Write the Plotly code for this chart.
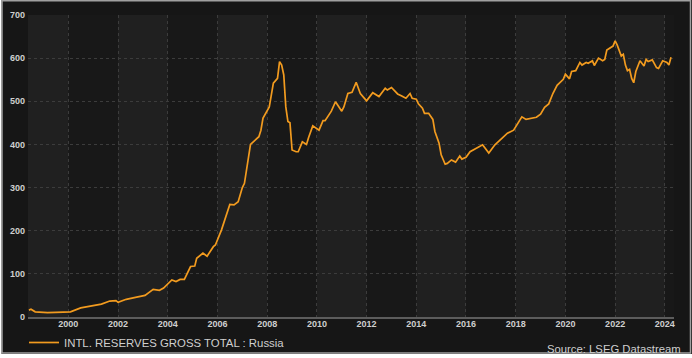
import plotly.graph_objects as go

# ---- data, USD bn ----
dates = [
    "1998-06", "1998-07", "1998-09", "1998-11", "1999-03", "1999-07", "2000-01", "2000-02",
    "2000-07", "2000-12", "2001-05", "2001-09", "2001-12", "2002-01", "2002-05", "2002-10",
    "2003-02", "2003-06", "2003-09", "2003-11", "2004-03", "2004-05", "2004-07", "2004-09",
    "2004-12", "2005-02", "2005-03", "2005-06", "2005-08", "2005-11", "2005-12", "2006-03",
    "2006-07", "2006-09", "2006-11", "2007-01", "2007-02", "2007-05", "2007-07", "2007-09",
    "2007-10", "2007-11", "2008-02", "2008-04", "2008-06", "2008-07", "2008-08", "2008-09",
    "2008-10", "2008-11", "2008-12", "2009-01", "2009-03", "2009-04", "2009-06", "2009-08",
    "2009-09", "2009-11", "2010-02", "2010-04", "2010-05", "2010-08", "2010-10", "2011-01",
    "2011-02", "2011-04", "2011-06", "2011-08", "2011-10", "2012-01", "2012-04", "2012-07",
    "2012-10", "2012-11", "2013-01", "2013-04", "2013-06", "2013-08", "2013-10", "2013-11",
    "2014-01", "2014-02", "2014-04", "2014-05", "2014-07", "2014-09", "2014-10", "2014-12",
    "2015-01", "2015-03", "2015-04", "2015-06", "2015-08", "2015-10", "2015-11", "2016-01",
    "2016-03", "2016-06", "2016-07", "2016-09", "2016-10", "2016-12", "2017-03", "2017-09",
    "2017-12", "2018-04", "2018-06", "2018-11", "2019-01", "2019-03", "2019-05", "2019-07",
    "2019-09", "2019-12", "2020-01", "2020-03", "2020-04", "2020-06", "2020-08", "2020-09",
    "2020-11", "2020-12", "2021-02", "2021-03", "2021-05", "2021-07", "2021-08", "2021-09",
    "2021-12", "2022-01", "2022-02", "2022-04", "2022-05", "2022-06", "2022-07", "2022-08",
    "2022-09", "2022-10", "2022-11", "2023-01", "2023-03", "2023-04", "2023-05", "2023-07",
    "2023-09", "2023-10", "2023-12", "2024-02", "2024-03", "2024-04",
]
reserves = [
    16, 18, 12, 11, 10, 10.5, 11, 12,
    21, 26, 30, 37, 38, 34, 41, 46,
    50, 64, 62, 67, 86, 82, 87, 87,
    117, 118, 136, 148, 141, 163, 167, 202,
    261, 260, 267, 300, 310, 400, 410, 418,
    433, 461, 487, 542, 553, 592, 584, 561,
    487, 453, 450, 387, 383, 383, 406, 400,
    416, 443, 433, 455, 455, 477, 499, 477,
    487, 518, 521, 544, 518, 501, 520, 511,
    530, 526, 532, 517, 512, 507, 518, 507,
    505, 494, 484, 472, 472, 458, 430, 403,
    376, 354, 356, 364, 359, 373, 366, 370,
    383, 391, 395, 399, 393, 380, 399, 426,
    433, 464, 458, 463, 470, 486, 494, 518,
    537, 551, 563, 552, 569, 571, 590, 584,
    590, 588, 594, 583, 600, 594, 597, 619,
    628, 640, 630, 605, 609, 584, 571, 574,
    553, 543, 569, 594, 582, 597, 592, 596,
    578, 576, 594, 590, 584, 602,
]
series_name = "INTL. RESERVES GROSS TOTAL : Russia"
tick_years = list(range(2000, 2025, 2))
source_text = "Source: LSEG Datastream"

# ---- style ----
W, H = 692, 358
L, R, T, B = 28, 18, 15, 41
PW, PH = W - L - R, H - T - B
LINE = "#F29B1F"
TXT = "#cfcfcf"
BG = "#161616"
BAND_DARK = "#181818"
BAND_LIGHT = "#202020"
GRID = "#3c3c3c"
FONT = "Liberation Sans"
x_start, x_end = "1998-05-18", "2024-05-15"


def px2paper_x(px):
    return (px - L) / PW


def px2paper_y(py):
    return (H - B - py) / PH


fig = go.Figure()
fig.add_trace(go.Scatter(
    x=dates, y=reserves, mode="lines", name=series_name,
    line=dict(color=LINE, width=1.7),
))

shapes = []
# alternating two-year background bands
band_edges = [x_start] + [f"{y}-01-01" for y in tick_years] + [x_end]
for i in range(0, len(band_edges) - 1, 2):
    shapes.append(dict(type="rect", xref="x", yref="paper", x0=band_edges[i], x1=band_edges[i + 1],
                       y0=0, y1=1, fillcolor=BAND_LIGHT, line=dict(width=0), layer="below"))
# white outside of the frame
shapes.append(dict(type="rect", xref="paper", yref="paper", x0=px2paper_x(-5), x1=px2paper_x(W + 5),
                   y0=px2paper_y(354), y1=px2paper_y(H + 5), fillcolor="white", line=dict(width=0), layer="above"))
shapes.append(dict(type="rect", xref="paper", yref="paper", x0=px2paper_x(-5), x1=px2paper_x(1.5),
                   y0=px2paper_y(-5), y1=px2paper_y(H + 5), fillcolor="white", line=dict(width=0), layer="above"))
# frame border
shapes.append(dict(type="rect", xref="paper", yref="paper", x0=px2paper_x(2), x1=px2paper_x(W - 1.5),
                   y0=px2paper_y(353), y1=px2paper_y(0.8), fillcolor="rgba(0,0,0,0)",
                   line=dict(color="#a0a0a0", width=1.5), layer="above"))

fig.update_layout(
    width=W, height=H,
    margin=dict(l=L, r=R, t=T, b=B, pad=0, autoexpand=False),
    paper_bgcolor=BG, plot_bgcolor=BAND_DARK,
    font=dict(family=FONT, color=TXT, size=11),
    shapes=shapes,
    showlegend=True,
    legend=dict(orientation="h", x=px2paper_x(24), y=px2paper_y(328), xanchor="left", yanchor="top",
                bgcolor="rgba(0,0,0,0)", font=dict(family=FONT, size=11.4, color=TXT),
                itemwidth=30, borderwidth=0),
    annotations=[dict(text=source_text, xref="paper", yref="paper", x=px2paper_x(683), y=px2paper_y(349),
                      xanchor="right", yanchor="middle", showarrow=False,
                      font=dict(family=FONT, size=11.3, color=TXT))],
)
fig.update_xaxes(
    type="date", range=[x_start, x_end],
    tickmode="array", tickvals=[f"{y}-01-01" for y in tick_years], ticktext=[str(y) for y in tick_years],
    showgrid=True, gridcolor=GRID, griddash="dot", gridwidth=1,
    showline=True, linecolor="#5c5c5c", linewidth=2,
    ticks="", tickfont=dict(family=FONT, size=9, color=TXT, weight="bold"),
    ticklabelstandoff=-3,
    automargin=False, fixedrange=True,
)
fig.update_yaxes(
    range=[0, 700], dtick=100, tick0=0,
    showgrid=True, gridcolor=GRID, griddash="dot", gridwidth=1,
    zeroline=False, showline=False, ticks="",
    tickfont=dict(family=FONT, size=9, color=TXT, weight="bold"),
    ticklabelstandoff=2,
    automargin=False, fixedrange=True,
)

fig.write_html(
    "out.html",
    config={"displayModeBar": False},
    post_script="document.body.style.margin='0';document.body.style.overflow='hidden';",
)
